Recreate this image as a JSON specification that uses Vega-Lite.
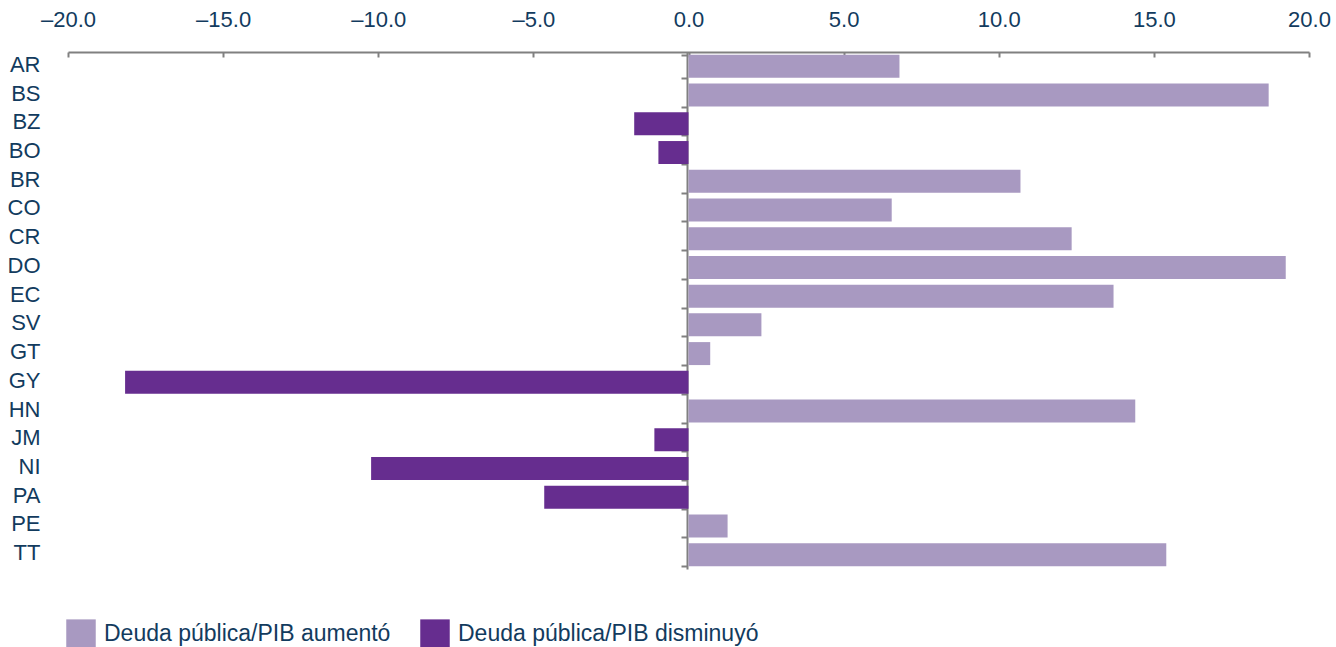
{
  "$schema": "https://vega.github.io/schema/vega-lite/v6.json",
  "autosize": "none",
  "padding": {"left": 68, "top": 52, "right": 27, "bottom": 78},
  "width": 1241,
  "height": 517,
  "config": {
    "view": {"stroke": null},
    "font": "Liberation Sans",
    "axis": {"grid": false, "labelFont": "Liberation Sans", "labelFontSize": 22, "labelColor": "#123b5e", "domainColor": "#808080", "tickColor": "#808080", "domainWidth": 2, "tickWidth": 2}
  },
  "data": {
    "values": [
      {"pais": "AR", "valor": 6.8, "tipo": "Deuda pública/PIB aumentó"},
      {"pais": "BS", "valor": 18.7, "tipo": "Deuda pública/PIB aumentó"},
      {"pais": "BZ", "valor": -1.75, "tipo": "Deuda pública/PIB disminuyó"},
      {"pais": "BO", "valor": -0.97, "tipo": "Deuda pública/PIB disminuyó"},
      {"pais": "BR", "valor": 10.7, "tipo": "Deuda pública/PIB aumentó"},
      {"pais": "CO", "valor": 6.55, "tipo": "Deuda pública/PIB aumentó"},
      {"pais": "CR", "valor": 12.35, "tipo": "Deuda pública/PIB aumentó"},
      {"pais": "DO", "valor": 19.25, "tipo": "Deuda pública/PIB aumentó"},
      {"pais": "EC", "valor": 13.7, "tipo": "Deuda pública/PIB aumentó"},
      {"pais": "SV", "valor": 2.35, "tipo": "Deuda pública/PIB aumentó"},
      {"pais": "GT", "valor": 0.7, "tipo": "Deuda pública/PIB aumentó"},
      {"pais": "GY", "valor": -18.16, "tipo": "Deuda pública/PIB disminuyó"},
      {"pais": "HN", "valor": 14.4, "tipo": "Deuda pública/PIB aumentó"},
      {"pais": "JM", "valor": -1.1, "tipo": "Deuda pública/PIB disminuyó"},
      {"pais": "NI", "valor": -10.23, "tipo": "Deuda pública/PIB disminuyó"},
      {"pais": "PA", "valor": -4.65, "tipo": "Deuda pública/PIB disminuyó"},
      {"pais": "PE", "valor": 1.26, "tipo": "Deuda pública/PIB aumentó"},
      {"pais": "TT", "valor": 15.4, "tipo": "Deuda pública/PIB aumentó"}
    ]
  },
  "mark": {"type": "bar"},
  "encoding": {
    "y": {
      "field": "pais", "type": "nominal", "sort": null,
      "scale": {"paddingInner": 0.2, "paddingOuter": 0.1},
      "axis": {"title": null, "orient": "left", "offset": -619, "tickBand": "extent", "tickSize": 6, "labelPadding": 641, "labelAlign": "right", "labelOffset": -2}
    },
    "x": {
      "field": "valor", "type": "quantitative",
      "scale": {"domain": [-20, 20], "nice": false, "zero": true},
      "axis": {"title": null, "orient": "top", "values": [-20, -15, -10, -5, 0, 5, 10, 15, 20], "tickSize": -5, "labelPadding": 26, "labelFlush": false, "labelOverlap": false,
        "labelExpr": "datum.value < 0 ? '–' + format(-datum.value, '.1f') : format(datum.value, '.1f')"}
    },
    "color": {
      "field": "tipo", "type": "nominal",
      "scale": {"domain": ["Deuda pública/PIB aumentó", "Deuda pública/PIB disminuyó"], "range": ["#a899c1", "#662d8f"]},
      "legend": {"title": null, "orient": "none", "direction": "horizontal", "legendX": -2, "legendY": 567,
        "symbolType": "square", "symbolSize": 870, "symbolStrokeWidth": 0, "symbolOpacity": 1,
        "labelFont": "Liberation Sans", "labelFontSize": 23, "labelColor": "#123b5e", "labelOffset": 8, "columnPadding": 29, "labelLimit": 400}
    }
  }
}
